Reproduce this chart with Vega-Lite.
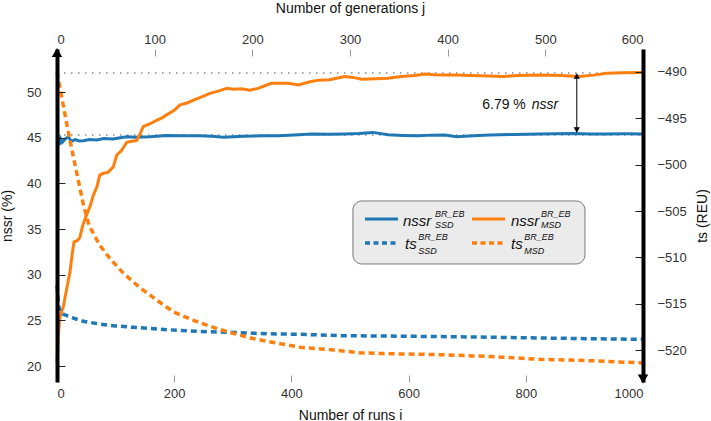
{
  "$schema": "https://vega.github.io/schema/vega-lite/v6.json",
  "width": 586,
  "height": 333,
  "autosize": {"type": "none"},
  "padding": {"left": 57, "top": 49, "right": 68, "bottom": 39},
  "background": "white",
  "config": {
    "view": {"stroke": null},
    "font": "Liberation Sans",
    "axis": {
      "grid": false,
      "labelFont": "Liberation Sans",
      "titleFont": "Liberation Sans",
      "labelFontSize": 13,
      "titleFontSize": 14,
      "titleFontWeight": "normal",
      "labelColor": "#333",
      "titleColor": "#111"
    },
    "text": {"font": "Liberation Sans", "color": "#111"}
  },
  "datasets": {
    "one": [{}],
    "nssr": [
      {"series": "SSD", "run": 0, "value": 44.3},
      {"series": "SSD", "run": 2, "value": 44.6},
      {"series": "SSD", "run": 4, "value": 44.2},
      {"series": "SSD", "run": 6, "value": 44.9},
      {"series": "SSD", "run": 9, "value": 44.5},
      {"series": "SSD", "run": 14, "value": 44.85},
      {"series": "SSD", "run": 19, "value": 45.1},
      {"series": "SSD", "run": 25, "value": 44.6},
      {"series": "SSD", "run": 31, "value": 44.8},
      {"series": "SSD", "run": 38, "value": 44.65},
      {"series": "SSD", "run": 45, "value": 44.67},
      {"series": "SSD", "run": 55, "value": 44.8},
      {"series": "SSD", "run": 68, "value": 44.75},
      {"series": "SSD", "run": 80, "value": 44.9},
      {"series": "SSD", "run": 96, "value": 44.85},
      {"series": "SSD", "run": 108, "value": 45.0},
      {"series": "SSD", "run": 119, "value": 45.1},
      {"series": "SSD", "run": 135, "value": 45.05},
      {"series": "SSD", "run": 159, "value": 45.1},
      {"series": "SSD", "run": 187, "value": 45.25},
      {"series": "SSD", "run": 216, "value": 45.2},
      {"series": "SSD", "run": 244, "value": 45.2},
      {"series": "SSD", "run": 265, "value": 45.15},
      {"series": "SSD", "run": 284, "value": 45.04},
      {"series": "SSD", "run": 318, "value": 45.15},
      {"series": "SSD", "run": 350, "value": 45.2},
      {"series": "SSD", "run": 377, "value": 45.2},
      {"series": "SSD", "run": 405, "value": 45.3},
      {"series": "SSD", "run": 435, "value": 45.4},
      {"series": "SSD", "run": 465, "value": 45.38},
      {"series": "SSD", "run": 491, "value": 45.4},
      {"series": "SSD", "run": 515, "value": 45.45},
      {"series": "SSD", "run": 539, "value": 45.58},
      {"series": "SSD", "run": 565, "value": 45.33},
      {"series": "SSD", "run": 590, "value": 45.25},
      {"series": "SSD", "run": 616, "value": 45.2},
      {"series": "SSD", "run": 640, "value": 45.28},
      {"series": "SSD", "run": 662, "value": 45.3},
      {"series": "SSD", "run": 682, "value": 45.1},
      {"series": "SSD", "run": 710, "value": 45.22},
      {"series": "SSD", "run": 739, "value": 45.3},
      {"series": "SSD", "run": 780, "value": 45.35},
      {"series": "SSD", "run": 824, "value": 45.4},
      {"series": "SSD", "run": 850, "value": 45.42},
      {"series": "SSD", "run": 881, "value": 45.45},
      {"series": "SSD", "run": 910, "value": 45.4},
      {"series": "SSD", "run": 938, "value": 45.4},
      {"series": "SSD", "run": 970, "value": 45.42},
      {"series": "SSD", "run": 1000, "value": 45.4},
      {"series": "MSD", "run": 0, "value": 20.4},
      {"series": "MSD", "run": 2, "value": 23.2},
      {"series": "MSD", "run": 5, "value": 25.4},
      {"series": "MSD", "run": 8, "value": 26.0},
      {"series": "MSD", "run": 11, "value": 26.5},
      {"series": "MSD", "run": 14, "value": 27.6},
      {"series": "MSD", "run": 17, "value": 28.6},
      {"series": "MSD", "run": 20, "value": 29.6},
      {"series": "MSD", "run": 22, "value": 30.2},
      {"series": "MSD", "run": 25, "value": 31.8},
      {"series": "MSD", "run": 29, "value": 33.6},
      {"series": "MSD", "run": 34, "value": 33.7},
      {"series": "MSD", "run": 37, "value": 33.9},
      {"series": "MSD", "run": 39, "value": 34.1},
      {"series": "MSD", "run": 44, "value": 35.4},
      {"series": "MSD", "run": 49, "value": 36.3},
      {"series": "MSD", "run": 56, "value": 37.4},
      {"series": "MSD", "run": 62, "value": 38.7},
      {"series": "MSD", "run": 68, "value": 39.6},
      {"series": "MSD", "run": 73, "value": 40.9},
      {"series": "MSD", "run": 79, "value": 41.1},
      {"series": "MSD", "run": 87, "value": 41.2},
      {"series": "MSD", "run": 96, "value": 41.8},
      {"series": "MSD", "run": 102, "value": 43.1},
      {"series": "MSD", "run": 110, "value": 43.6},
      {"series": "MSD", "run": 119, "value": 44.5},
      {"series": "MSD", "run": 128, "value": 44.6},
      {"series": "MSD", "run": 136, "value": 44.7},
      {"series": "MSD", "run": 143, "value": 45.6},
      {"series": "MSD", "run": 147, "value": 46.2},
      {"series": "MSD", "run": 158, "value": 46.5},
      {"series": "MSD", "run": 170, "value": 46.9},
      {"series": "MSD", "run": 180, "value": 47.2},
      {"series": "MSD", "run": 187, "value": 47.5},
      {"series": "MSD", "run": 200, "value": 48.0},
      {"series": "MSD", "run": 210, "value": 48.6},
      {"series": "MSD", "run": 222, "value": 48.8},
      {"series": "MSD", "run": 233, "value": 49.1},
      {"series": "MSD", "run": 248, "value": 49.5},
      {"series": "MSD", "run": 261, "value": 49.85},
      {"series": "MSD", "run": 275, "value": 50.1},
      {"series": "MSD", "run": 290, "value": 50.4},
      {"series": "MSD", "run": 301, "value": 50.3},
      {"series": "MSD", "run": 315, "value": 50.35},
      {"series": "MSD", "run": 329, "value": 50.2},
      {"series": "MSD", "run": 343, "value": 50.4},
      {"series": "MSD", "run": 358, "value": 50.77},
      {"series": "MSD", "run": 366, "value": 50.95},
      {"series": "MSD", "run": 386, "value": 50.95},
      {"series": "MSD", "run": 395, "value": 50.95},
      {"series": "MSD", "run": 412, "value": 50.77},
      {"series": "MSD", "run": 430, "value": 51.1},
      {"series": "MSD", "run": 446, "value": 51.3},
      {"series": "MSD", "run": 465, "value": 51.35},
      {"series": "MSD", "run": 491, "value": 51.7},
      {"series": "MSD", "run": 505, "value": 51.6},
      {"series": "MSD", "run": 520, "value": 51.4},
      {"series": "MSD", "run": 545, "value": 51.45},
      {"series": "MSD", "run": 565, "value": 51.5},
      {"series": "MSD", "run": 588, "value": 51.7},
      {"series": "MSD", "run": 610, "value": 51.8},
      {"series": "MSD", "run": 628, "value": 51.97},
      {"series": "MSD", "run": 645, "value": 51.9},
      {"series": "MSD", "run": 662, "value": 51.86},
      {"series": "MSD", "run": 682, "value": 51.86},
      {"series": "MSD", "run": 705, "value": 51.8},
      {"series": "MSD", "run": 739, "value": 51.75},
      {"series": "MSD", "run": 760, "value": 51.7},
      {"series": "MSD", "run": 785, "value": 51.8},
      {"series": "MSD", "run": 824, "value": 51.86},
      {"series": "MSD", "run": 860, "value": 51.8},
      {"series": "MSD", "run": 892, "value": 51.7},
      {"series": "MSD", "run": 915, "value": 51.85},
      {"series": "MSD", "run": 938, "value": 52.05},
      {"series": "MSD", "run": 965, "value": 52.1},
      {"series": "MSD", "run": 1000, "value": 52.15}
    ],
    "ts": [
      {"series": "SSD", "run": 0, "value": -513.0},
      {"series": "SSD", "run": 3, "value": -515.3},
      {"series": "SSD", "run": 6, "value": -515.9},
      {"series": "SSD", "run": 10, "value": -516.1},
      {"series": "SSD", "run": 17, "value": -516.3},
      {"series": "SSD", "run": 30, "value": -516.6},
      {"series": "SSD", "run": 45, "value": -516.9},
      {"series": "SSD", "run": 73, "value": -517.2},
      {"series": "SSD", "run": 100, "value": -517.4},
      {"series": "SSD", "run": 130, "value": -517.55},
      {"series": "SSD", "run": 187, "value": -517.8},
      {"series": "SSD", "run": 244, "value": -518.0},
      {"series": "SSD", "run": 301, "value": -518.1},
      {"series": "SSD", "run": 358, "value": -518.25},
      {"series": "SSD", "run": 415, "value": -518.3},
      {"series": "SSD", "run": 483, "value": -518.45},
      {"series": "SSD", "run": 570, "value": -518.5},
      {"series": "SSD", "run": 654, "value": -518.55},
      {"series": "SSD", "run": 740, "value": -518.62},
      {"series": "SSD", "run": 824, "value": -518.7},
      {"series": "SSD", "run": 910, "value": -518.78},
      {"series": "SSD", "run": 1000, "value": -518.85},
      {"series": "MSD", "run": 0, "value": -490.0},
      {"series": "MSD", "run": 19, "value": -496.4},
      {"series": "MSD", "run": 31, "value": -500.1},
      {"series": "MSD", "run": 45, "value": -504.3},
      {"series": "MSD", "run": 55, "value": -506.6},
      {"series": "MSD", "run": 73, "value": -508.7},
      {"series": "MSD", "run": 90, "value": -510.1},
      {"series": "MSD", "run": 113, "value": -511.7},
      {"series": "MSD", "run": 142, "value": -513.3},
      {"series": "MSD", "run": 170, "value": -514.6},
      {"series": "MSD", "run": 199, "value": -515.9},
      {"series": "MSD", "run": 233, "value": -516.8},
      {"series": "MSD", "run": 273, "value": -517.7},
      {"series": "MSD", "run": 301, "value": -518.2},
      {"series": "MSD", "run": 330, "value": -518.7},
      {"series": "MSD", "run": 358, "value": -519.05},
      {"series": "MSD", "run": 415, "value": -519.7},
      {"series": "MSD", "run": 472, "value": -520.0},
      {"series": "MSD", "run": 517, "value": -520.3},
      {"series": "MSD", "run": 568, "value": -520.4},
      {"series": "MSD", "run": 654, "value": -520.5},
      {"series": "MSD", "run": 739, "value": -520.7},
      {"series": "MSD", "run": 824, "value": -521.0},
      {"series": "MSD", "run": 910, "value": -521.15},
      {"series": "MSD", "run": 1000, "value": -521.4}
    ]
  },
  "layer": [
    {
      "data": {"name": "one"},
      "encoding": {
        "x": {
          "type": "quantitative",
          "scale": {"domain": [0, 1000], "nice": false, "zero": false},
          "axis": {
            "orient": "bottom",
            "title": "Number of runs i",
            "values": [0, 200, 400, 600, 800, 1000],
            "format": "d",
            "domain": false,
            "tickSize": -7,
            "tickColor": "#999",
            "labelPadding": 12,
            "titlePadding": 8
          }
        },
        "y": {
          "type": "quantitative",
          "scale": {"domain": [18.25, 54.71], "nice": false, "zero": false},
          "axis": {
            "orient": "left",
            "title": "nssr (%)",
            "values": [20, 25, 30, 35, 40, 45, 50],
            "domain": true,
            "domainColor": "black",
            "domainWidth": 4,
            "tickSize": -8,
            "tickColor": "#222",
            "labelPadding": 24,
            "titlePadding": 12,
            "zindex": 1
          }
        }
      },
      "layer": [
        {
          "mark": {"type": "rule", "color": "#888", "strokeWidth": 1.5, "strokeDash": [1.5, 5.5]},
          "encoding": {"x": {"datum": 0}, "x2": {"datum": 1000}, "y": {"datum": 52.08}}
        },
        {
          "mark": {"type": "rule", "color": "#888", "strokeWidth": 1.5, "strokeDash": [1.5, 5.5]},
          "encoding": {"x": {"datum": 0}, "x2": {"datum": 1000}, "y": {"datum": 45.3}}
        },
        {
          "data": {"name": "nssr"},
          "mark": {"type": "line", "strokeWidth": 3},
          "encoding": {
            "x": {"field": "run"},
            "y": {"field": "value"},
            "color": {
              "field": "series",
              "type": "nominal",
              "scale": {"domain": ["SSD", "MSD"], "range": ["#1f77b4", "#ff7f0e"]},
              "legend": null
            }
          }
        },
        {
          "mark": {"type": "rule", "color": "black", "strokeWidth": 1},
          "encoding": {"x": {"datum": 887}, "y": {"datum": 51.9}, "y2": {"datum": 45.6}}
        },
        {
          "mark": {"type": "point", "shape": "triangle-up", "filled": true, "color": "black", "opacity": 1, "size": 40},
          "encoding": {"x": {"datum": 887}, "y": {"datum": 51.75}}
        },
        {
          "mark": {"type": "point", "shape": "triangle-down", "filled": true, "color": "black", "opacity": 1, "size": 40},
          "encoding": {"x": {"datum": 887}, "y": {"datum": 45.84}}
        },
        {
          "mark": {"type": "text", "align": "right", "baseline": "middle", "fontSize": 14},
          "encoding": {"x": {"datum": 800}, "y": {"datum": 48.58}, "text": {"value": "6.79 %"}}
        },
        {
          "mark": {"type": "text", "align": "left", "baseline": "middle", "fontSize": 14, "fontStyle": "italic"},
          "encoding": {"x": {"datum": 810}, "y": {"datum": 48.58}, "text": {"value": "nssr"}}
        },
        {
          "mark": {"type": "point", "shape": "triangle-up", "filled": true, "color": "black", "opacity": 1, "size": 110},
          "encoding": {"x": {"datum": 0}, "y": {"datum": 54.32}}
        },
        {
          "mark": {"type": "point", "shape": "triangle-down", "filled": true, "color": "black", "opacity": 1, "size": 110},
          "encoding": {"x": {"datum": 1000}, "y": {"datum": 18.58}}
        },
        {
          "mark": {"type": "rect", "fill": "#ebebeb", "stroke": "#777", "strokeWidth": 1, "cornerRadius": 9},
          "encoding": {"x": {"datum": 505}, "x2": {"datum": 901}, "y": {"datum": 38.07}, "y2": {"datum": 31.17}}
        },
        {
          "mark": {"type": "rule", "color": "#1f77b4", "strokeWidth": 3},
          "encoding": {"x": {"datum": 525.6}, "x2": {"datum": 581.9}, "y": {"datum": 36.1}}
        },
        {
          "mark": {"type": "rule", "color": "#ff7f0e", "strokeWidth": 3},
          "encoding": {"x": {"datum": 708.2}, "x2": {"datum": 764.5}, "y": {"datum": 36.1}}
        },
        {
          "mark": {"type": "rule", "color": "#1f77b4", "strokeWidth": 3.5, "strokeDash": [5, 3.5]},
          "encoding": {"x": {"datum": 525.6}, "x2": {"datum": 581.9}, "y": {"datum": 33.47}}
        },
        {
          "mark": {"type": "rule", "color": "#ff7f0e", "strokeWidth": 3.5, "strokeDash": [5, 3.5]},
          "encoding": {"x": {"datum": 708.2}, "x2": {"datum": 764.5}, "y": {"datum": 33.47}}
        },
        {
          "mark": {"type": "text", "align": "left", "baseline": "alphabetic", "fontSize": 15, "fontStyle": "italic"},
          "encoding": {"x": {"datum": 590.4}, "y": {"datum": 35.35}, "text": {"value": "nssr"}}
        },
        {
          "mark": {"type": "text", "align": "left", "baseline": "middle", "fontSize": 9, "fontStyle": "italic"},
          "encoding": {"x": {"datum": 645}, "y": {"datum": 36.65}, "text": {"value": "BR_EB"}}
        },
        {
          "mark": {"type": "text", "align": "left", "baseline": "middle", "fontSize": 9, "fontStyle": "italic"},
          "encoding": {"x": {"datum": 645}, "y": {"datum": 35.42}, "text": {"value": "SSD"}}
        },
        {
          "mark": {"type": "text", "align": "left", "baseline": "alphabetic", "fontSize": 15, "fontStyle": "italic"},
          "encoding": {"x": {"datum": 774.7}, "y": {"datum": 35.35}, "text": {"value": "nssr"}}
        },
        {
          "mark": {"type": "text", "align": "left", "baseline": "middle", "fontSize": 9, "fontStyle": "italic"},
          "encoding": {"x": {"datum": 826}, "y": {"datum": 36.65}, "text": {"value": "BR_EB"}}
        },
        {
          "mark": {"type": "text", "align": "left", "baseline": "middle", "fontSize": 9, "fontStyle": "italic"},
          "encoding": {"x": {"datum": 826}, "y": {"datum": 35.42}, "text": {"value": "MSD"}}
        },
        {
          "mark": {"type": "text", "align": "left", "baseline": "alphabetic", "fontSize": 15, "fontStyle": "italic"},
          "encoding": {"x": {"datum": 593.9}, "y": {"datum": 32.78}, "text": {"value": "ts"}}
        },
        {
          "mark": {"type": "text", "align": "left", "baseline": "middle", "fontSize": 9, "fontStyle": "italic"},
          "encoding": {"x": {"datum": 616.6}, "y": {"datum": 34.16}, "text": {"value": "BR_EB"}}
        },
        {
          "mark": {"type": "text", "align": "left", "baseline": "middle", "fontSize": 9, "fontStyle": "italic"},
          "encoding": {"x": {"datum": 616.6}, "y": {"datum": 32.63}, "text": {"value": "SSD"}}
        },
        {
          "mark": {"type": "text", "align": "left", "baseline": "alphabetic", "fontSize": 15, "fontStyle": "italic"},
          "encoding": {"x": {"datum": 774.7}, "y": {"datum": 32.78}, "text": {"value": "ts"}}
        },
        {
          "mark": {"type": "text", "align": "left", "baseline": "middle", "fontSize": 9, "fontStyle": "italic"},
          "encoding": {"x": {"datum": 797.5}, "y": {"datum": 34.16}, "text": {"value": "BR_EB"}}
        },
        {
          "mark": {"type": "text", "align": "left", "baseline": "middle", "fontSize": 9, "fontStyle": "italic"},
          "encoding": {"x": {"datum": 797.5}, "y": {"datum": 32.63}, "text": {"value": "MSD"}}
        }
      ]
    },
    {
      "data": {"name": "ts"},
      "mark": {"type": "line", "strokeWidth": 3.5, "strokeDash": [6, 4]},
      "encoding": {
        "x": {
          "field": "run",
          "type": "quantitative",
          "scale": {"domain": [0, 1000], "nice": false, "zero": false},
          "axis": null
        },
        "y": {
          "field": "value",
          "type": "quantitative",
          "scale": {"domain": [-523.45, -487.52], "nice": false, "zero": false},
          "axis": {
            "orient": "right",
            "title": "ts (REU)",
            "titleAngle": 270,
            "titleBaseline": "top",
            "values": [-520, -515, -510, -505, -500, -495, -490],
            "domain": true,
            "domainColor": "black",
            "domainWidth": 4,
            "tickSize": -8,
            "tickColor": "#222",
            "labelPadding": 22,
            "titlePadding": 9,
            "zindex": 1
          }
        },
        "color": {
          "field": "series",
          "type": "nominal",
          "scale": {"domain": ["SSD", "MSD"], "range": ["#1f77b4", "#ff7f0e"]},
          "legend": null
        }
      }
    },
    {
      "data": {"name": "one"},
      "mark": {"type": "rule", "opacity": 0},
      "encoding": {
        "x": {
          "datum": 0,
          "type": "quantitative",
          "scale": {"domain": [0, 600], "nice": false, "zero": false},
          "axis": {
            "orient": "top",
            "title": "Number of generations j",
            "values": [0, 100, 200, 300, 400, 500, 600],
            "domain": false,
            "tickSize": -7,
            "tickColor": "#999",
            "labelPadding": 10,
            "titlePadding": 18
          }
        }
      }
    }
  ],
  "resolve": {"scale": {"x": "independent", "y": "independent", "color": "shared"}}
}
